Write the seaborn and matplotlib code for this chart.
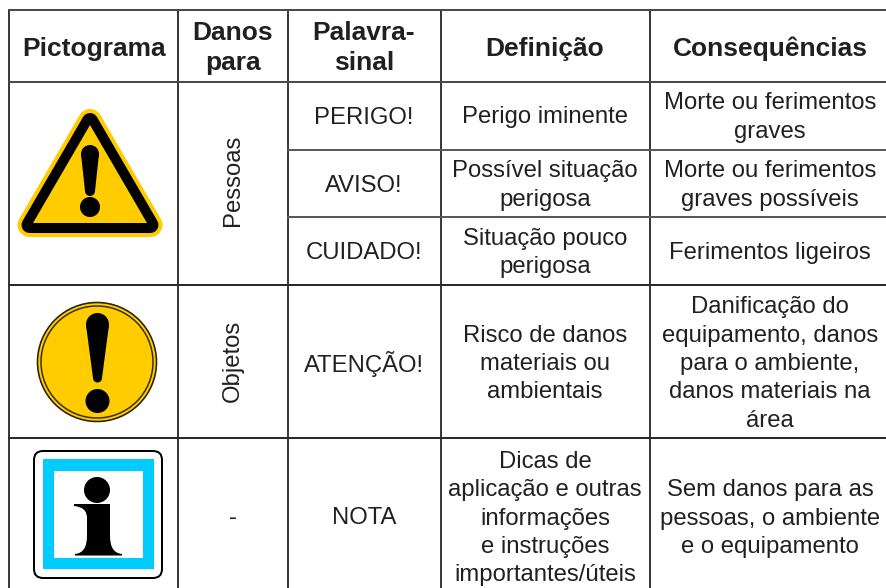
import matplotlib
matplotlib.use("Agg")
import matplotlib.pyplot as plt
import pandas as pd
import seaborn as sns
from matplotlib.patches import Circle, FancyBboxPatch, PathPatch, Polygon, Rectangle
from matplotlib.path import Path

# table contents
cabecalhos = ["Pictograma", "Danos\npara", "Palavra-\nsinal", "Definição", "Consequências"]
danos = ["Pessoas", "Objetos", "-"]
palavras = ["PERIGO!", "AVISO!", "CUIDADO!", "ATENÇÃO!", "NOTA"]
definicoes = [
    "Perigo iminente",
    "Possível situação\nperigosa",
    "Situação pouco\nperigosa",
    "Risco de danos\nmateriais ou\nambientais",
    "Dicas de\naplicação e outras\ninformações\ne instruções\nimportantes/úteis",
]
consequencias = [
    "Morte ou ferimentos\ngraves",
    "Morte ou ferimentos\ngraves possíveis",
    "Ferimentos ligeiros",
    "Danificação do\nequipamento, danos\npara o ambiente,\ndanos materiais na\nárea",
    "Sem danos para as\npessoas, o ambiente\ne o equipamento",
]

# layout in pixels
col_x = [9, 178, 288, 441, 650, 887]
row_y = [10, 82, 150, 217, 285, 438, 588]
col_c = [94, 233, 364, 545, 770]
row_c = [117.5, 185.5, 253, 364, 518.5]
danos_y = [180.5, 360.5, 518]
W, H = 887, 588
PX = 0.72  # one pixel in points at dpi 100

TXT = "#231f20"
AMARELO = "#ffcc00"
CIANO = "#00ccff"
BODY = 17.2
HEAD = 19

sns.set_theme(style="white")
plt.rcParams["font.family"] = ["Liberation Sans", "DejaVu Sans"]

fig = plt.figure(figsize=(W / 100, H / 100), dpi=100)
ax = fig.add_axes([0, 0, 1, 1])


def grid_lines(segs, color, lw):
    rows = []
    for i, (x0, y0, x1, y1) in enumerate(segs):
        rows += [{"x": x0, "y": y0, "seg": i}, {"x": x1, "y": y1, "seg": i}]
    sns.lineplot(data=pd.DataFrame(rows), x="x", y="y", units="seg", estimator=None,
                 color=color, lw=lw * PX, sort=False, legend=False, ax=ax)


grid_lines([(x, row_y[0], x, H) for x in col_x[:-1]], "#3a3a3a", 2)
grid_lines([(col_x[2], y, W, y) for y in row_y[2:4]], "#5a5a5a", 2)
grid_lines([(col_x[0], y, W, y) for y in (row_y[0], row_y[1])], "#4a4a4a", 2)
grid_lines([(col_x[0], y, W, y) for y in (row_y[4], row_y[5])], "#2a2a2a", 2)

ax.set_xlim(0, W)
ax.set_ylim(H, 0)
ax.axis("off")

# header
for x, label in zip(col_c, cabecalhos):
    y = 49 if "\n" not in label else 48
    ax.text(x, y, label, ha="center", va="center", fontsize=HEAD, fontweight="bold",
            color=TXT, linespacing=1.32)

# body
for y, a, b, c in zip(row_c, palavras, definicoes, consequencias):
    ax.text(col_c[2], y, a, ha="center", va="center", fontsize=BODY, color=TXT)
    ax.text(col_c[3], y, b, ha="center", va="center", fontsize=BODY, color=TXT, linespacing=1.38)
    ax.text(col_c[4], y, c, ha="center", va="center", fontsize=BODY, color=TXT, linespacing=1.38)

for y, label in zip(danos_y, danos):
    rot = 90 if label != "-" else 0
    ax.text(col_c[1], y, label, ha="center", va="center", rotation=rot, fontsize=BODY, color=TXT)

# warning triangle
tri = [(90, 121), (29.5, 225), (150.5, 225)]
ax.add_patch(Polygon(tri, closed=True, fc=AMARELO, ec=AMARELO, lw=24 * PX, joinstyle="round"))
ax.add_patch(Polygon(tri, closed=True, fc="black", ec="black", lw=16 * PX, joinstyle="round"))
ax.add_patch(Polygon([(90, 125), (33, 223), (147, 223)], closed=True, fc=AMARELO, ec="none"))
ax.add_patch(Circle((90, 154), 9, fc="black", ec="none"))
ax.add_patch(Polygon([(81, 154), (99, 154), (95, 191), (85, 191)], closed=True, fc="black", ec="none"))
ax.add_patch(Circle((90, 191), 5, fc="black", ec="none"))
ax.add_patch(Circle((90, 207), 10, fc="black", ec="none"))

# round sign
ax.add_patch(Circle((97, 362), 59.5, fc=AMARELO, ec="#2a2000", lw=1.6 * PX))
ax.add_patch(Circle((97, 362), 56, fc="none", ec="#3a2c00", lw=1.5 * PX))
ax.add_patch(Circle((97.5, 324.5), 11.5, fc="black", ec="none"))
ax.add_patch(Polygon([(86, 325), (109, 325), (102, 378), (93, 378)], closed=True, fc="black", ec="none"))
ax.add_patch(Circle((97.5, 378), 4.5, fc="black", ec="none"))
ax.add_patch(Circle((97.5, 401), 12, fc="black", ec="none"))

# info sign
ax.add_patch(FancyBboxPatch((42, 459), 112, 111, boxstyle="round,pad=8,rounding_size=9",
                            fc="white", ec="black", lw=2 * PX))
ax.add_patch(Rectangle((43, 459), 111, 110, fc=CIANO, ec="none"))
ax.add_patch(Rectangle((54, 471), 89, 87, fc="white", ec="none"))
ax.add_patch(Circle((97, 490), 13, fc="black", ec="none"))
verts = [(74, 504), (110, 504), (110, 536), (110, 553), (122, 554), (122, 555.5), (75, 555.5),
         (75, 554), (87, 553), (87, 536), (87, 518), (87, 507), (74, 506), (74, 504)]
codes = [Path.MOVETO, Path.LINETO, Path.LINETO, Path.CURVE3, Path.CURVE3, Path.LINETO, Path.LINETO,
         Path.LINETO, Path.CURVE3, Path.CURVE3, Path.LINETO, Path.CURVE3, Path.CURVE3, Path.CLOSEPOLY]
ax.add_patch(PathPatch(Path(verts, codes), fc="black", ec="none"))

fig.savefig("out.png", dpi=100)
